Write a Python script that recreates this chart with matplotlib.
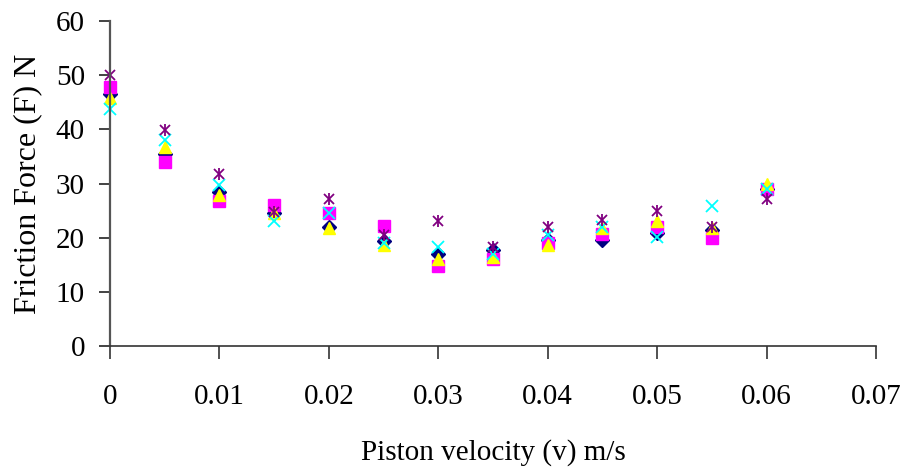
import matplotlib
matplotlib.use("Agg")
import matplotlib.pyplot as plt

# piston velocity (m/s)
velocity = [0, 0.005, 0.01, 0.015, 0.02, 0.025, 0.03, 0.035, 0.04, 0.045, 0.05, 0.055, 0.06]

# friction force readings (N), one list per test run
run_diamond = [46.6, 35.4, 28.5, 24.6, 22.0, 19.3, 16.9, 17.8, 19.5, 19.6, 20.9, 21.5, 29.0]
run_square = [47.8, 34.0, 26.8, 26.0, 24.5, 22.2, 14.8, 16.0, 19.0, 20.6, 22.0, 20.0, 29.0]
run_triangle = [45.7, 36.7, 27.9, 24.6, 21.8, 18.7, 16.1, 16.5, 18.7, 21.8, 23.0, 21.7, 30.0]
run_cross = [43.8, 38.0, 29.7, 23.0, 24.5, 19.0, 18.2, 16.9, 20.5, 22.0, 20.2, 25.9, 29.0]
run_star = [50.1, 39.8, 31.7, 24.8, 27.2, 20.5, 23.0, 18.2, 22.0, 23.3, 25.0, 22.0, 27.2]

xticks = [0, 0.01, 0.02, 0.03, 0.04, 0.05, 0.06, 0.07]
xtick_labels = ["0", "0.01", "0.02", "0.03", "0.04", "0.05", "0.06", "0.07"]
yticks = [0, 10, 20, 30, 40, 50, 60]

plt.rcParams["font.family"] = ["Liberation Serif", "DejaVu Serif"]

fig = plt.figure(figsize=(9.04, 4.68), dpi=100)
ax = fig.add_axes([110 / 904, 1 - 346 / 468, (876 - 110) / 904, (346 - 21) / 468])

ax.plot(velocity, run_diamond, ls="none", marker="D", ms=7, color="#000080", clip_on=False)
ax.plot(velocity, run_square, ls="none", marker="s", ms=8.5, color="#FF00FF", clip_on=False)
ax.plot(velocity, run_triangle, ls="none", marker="^", ms=9, color="#FFFF00", clip_on=False)
ax.plot(velocity, run_cross, ls="none", marker="x", ms=8, mew=1.3, color="#00FFFF", clip_on=False)
# excel-style asterisk = x plus a vertical bar
ax.plot(velocity, run_star, ls="none", marker="x", ms=7.5, mew=1.3, color="#800080", clip_on=False)
ax.plot(velocity, run_star, ls="none", marker="|", ms=9, mew=1.3, color="#800080", clip_on=False)

ax.set_xlim(0, 0.07)
ax.set_ylim(0, 60)
ax.set_xticks(xticks)
ax.set_xticklabels(xtick_labels)
ax.set_yticks(yticks)

for s in ["top", "right"]:
    ax.spines[s].set_visible(False)
ax.spines["left"].set_color("#555555")
ax.spines["bottom"].set_color("#333333")
ax.spines["left"].set_linewidth(1.6)
ax.spines["bottom"].set_linewidth(1.2)

ax.tick_params(axis="y", direction="out", length=8, width=1.2, color="#222222", labelsize=21, pad=10)
ax.tick_params(axis="x", direction="out", length=9, width=1.2, color="#333333", labelsize=21, pad=18)

ax.set_xlabel("Piston velocity (v) m/s", fontsize=21, labelpad=21)
ax.set_ylabel("Friction Force (F) N", fontsize=23, labelpad=10)

fig.savefig("out.png", dpi=100)
